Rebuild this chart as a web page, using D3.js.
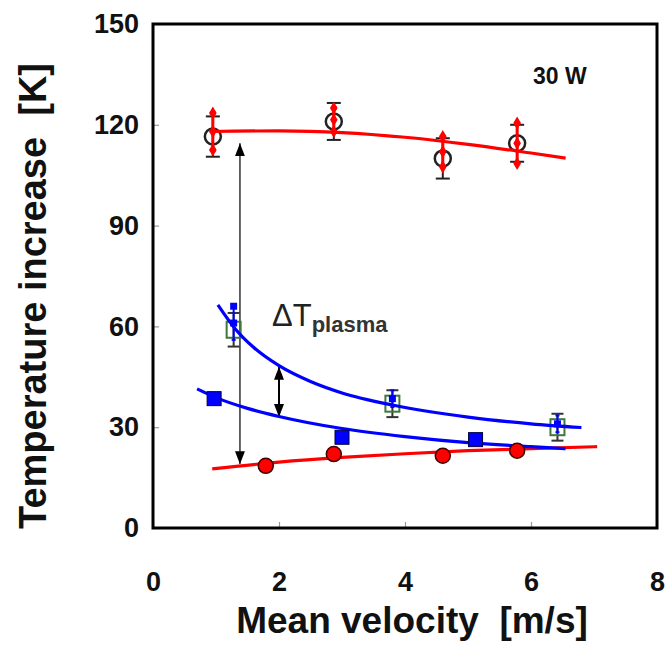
<!DOCTYPE html>
<html>
<head>
<meta charset="utf-8">
<script src="https://cdn.jsdelivr.net/npm/d3@7"></script>
<style>
  html, body { margin: 0; padding: 0; background: #fff; }
  svg { display: block; }
  text { font-family: "Liberation Sans", Arial, sans-serif; }
</style>
</head>
<body>
<svg id="chart" width="669" height="648"></svg>
<script>
// ---- data ----
const xTicks = [0, 2, 4, 6, 8];
const yTicks = [0, 30, 60, 90, 120, 150];

// total temperature rise (open circles) and its repeat (red diamonds)
const totalVel = [0.95, 2.87, 4.6, 5.78];
const totalTemp = [116.5, 121, 110, 114.5];
const totalErr = [6, 5.5, 6, 5.5];
const repeatTemp = [118, 121.5, 112, 114.5];
const repeatErr = [5.5, 3.5, 4.5, 6];

// plasma-on gas temperature (open green squares / small blue squares)
const plasmaVel = [1.28, 3.8, 6.42];
const plasmaTemp = [59, 37, 30];
const plasmaErr = [5, 4, 4];
const plasmaBlueTemp = [61, 38.5, 31];
const plasmaBlueErr = [5, 2.5, 2.5];
// isolated upper reading at the slowest flow
const plasmaExtraVel = [1.28];
const plasmaExtraTemp = [66];

// heating-only gas temperature (filled blue squares)
const heatVel = [0.97, 3.0, 5.12];
const heatTemp = [38.5, 27, 26.3];

// wall temperature (filled red circles)
const wallVel = [1.79, 2.87, 4.6, 5.78];
const wallTemp = [18.5, 22, 21.5, 23];

// fitted trend curves
const fitTopVel = [0.9, 2, 3, 4, 5, 6, 6.55];
const fitTopTemp = [118, 118.2, 117.7, 116.3, 114.2, 111.6, 110.1];
const fitPlasmaVel = [1.03, 1.3, 1.6, 2, 2.5, 3, 3.8, 5, 6, 6.8];
const fitPlasmaTemp = [66.4, 59.4, 53.7, 48.3, 43.6, 40.2, 36.6, 33.0, 31.0, 29.9];
const fitHeatVel = [0.7, 1, 1.5, 2, 3, 4, 5, 6, 6.55];
const fitHeatTemp = [41.4, 38.8, 35.6, 33.2, 29.6, 27.2, 25.4, 24.2, 23.6];
const fitWallVel = [0.94, 2, 3, 4, 5, 6, 7.05];
const fitWallTemp = [17.6, 19.6, 21.0, 22.1, 23.0, 23.6, 24.2];

// annotation arrows: [velocity, from temp, to temp]
const bigArrow = [1.38, 114.5, 19];
const smallArrow = [2.0, 48, 33];

// ---- drawing ----
const svg = d3.select("#chart");
const x = d3.scaleLinear().domain([0, 8]).range([153, 657]);
const y = d3.scaleLinear().domain([0, 150]).range([528, 24]);

const defs = svg.append("defs");
function arrowMarker(id, w, h) {
  const m = defs.append("marker").attr("id", id)
    .attr("viewBox", `0 0 ${w} ${h}`).attr("refX", w).attr("refY", h / 2)
    .attr("markerWidth", w).attr("markerHeight", h)
    .attr("markerUnits", "userSpaceOnUse").attr("orient", "auto-start-reverse");
  m.append("path").attr("d", `M0,0L${w},${h / 2}L0,${h}Z`).attr("fill", "#000");
}
arrowMarker("ah", 13, 10);

// axes with inward ticks
const xAxis = svg.append("g").attr("transform", `translate(0,${y(0)})`)
  .call(d3.axisBottom(x).tickValues(xTicks).tickSize(-6).tickPadding(44).tickFormat(d3.format("d")));
const yAxis = svg.append("g").attr("transform", `translate(${x(0)},0)`)
  .call(d3.axisLeft(y).tickValues(yTicks).tickSize(-6).tickPadding(14).tickFormat(d3.format("d")));
[xAxis, yAxis].forEach(g => {
  g.select(".domain").remove();
  g.selectAll(".tick line").attr("stroke", "#999").attr("stroke-width", 1.2);
  g.selectAll(".tick text").attr("font-size", 27).attr("font-weight", "bold")
    .attr("fill", "#111").style("font-family", "'Liberation Sans', Arial, sans-serif");
});

// frame
svg.append("rect").attr("x", x(0)).attr("y", y(150))
  .attr("width", x(8) - x(0)).attr("height", y(0) - y(150))
  .attr("fill", "none").attr("stroke", "#000").attr("stroke-width", 3);

// axis titles
svg.append("text").attr("x", 412).attr("y", 633)
  .attr("text-anchor", "middle").attr("font-size", 37).attr("font-weight", "bold")
  .attr("fill", "#111").text("Mean velocity\u00a0\u00a0[m/s]");
svg.append("text").attr("transform", `translate(46,296) rotate(-90)`)
  .attr("text-anchor", "middle").attr("font-size", 38).attr("font-weight", "bold")
  .attr("fill", "#111").text("Temperature increase\u00a0\u00a0[K]");

// power label
svg.append("text").attr("x", 533).attr("y", 84).attr("font-size", 23)
  .attr("font-weight", "bold").attr("fill", "#111").text("30 W");

// ΔT label
const dt = svg.append("text").attr("x", 272).attr("y", 326).attr("fill", "#222");
dt.append("tspan").attr("font-size", 31).text("ΔT");
dt.append("tspan").attr("font-size", 22).attr("font-weight", "bold").attr("dy", 6).attr("fill", "#333").text("plasma");

// arrows
svg.append("line")
  .attr("x1", x(bigArrow[0])).attr("x2", x(bigArrow[0]))
  .attr("y1", y(bigArrow[1])).attr("y2", y(bigArrow[2]))
  .attr("stroke", "#555").attr("stroke-width", 1.8)
  .attr("marker-start", "url(#ah)").attr("marker-end", "url(#ah)");
svg.append("line")
  .attr("x1", x(smallArrow[0])).attr("x2", x(smallArrow[0]))
  .attr("y1", y(smallArrow[1])).attr("y2", y(smallArrow[2]))
  .attr("stroke", "#000").attr("stroke-width", 2)
  .attr("marker-start", "url(#ah)").attr("marker-end", "url(#ah)");

const zip = (a, b) => a.map((v, i) => [v, b[i]]);

// error bar helper
function errorBars(vel, temp, err, color, capW, width) {
  const g = svg.append("g").attr("stroke", color).attr("stroke-width", width);
  vel.forEach((v, i) => {
    const cx = x(v), t = y(temp[i] + err[i]), b = y(temp[i] - err[i]);
    g.append("line").attr("x1", cx).attr("x2", cx).attr("y1", t).attr("y2", b);
    g.append("line").attr("x1", cx - capW).attr("x2", cx + capW).attr("y1", t).attr("y2", t);
    g.append("line").attr("x1", cx - capW).attr("x2", cx + capW).attr("y1", b).attr("y2", b);
  });
}

// open circles with error bars
errorBars(totalVel, totalTemp, totalErr, "#222", 7, 2);
svg.append("g").selectAll("circle").data(zip(totalVel, totalTemp)).join("circle")
  .attr("cx", d => x(d[0])).attr("cy", d => y(d[1])).attr("r", 8)
  .attr("fill", "none").attr("stroke", "#222").attr("stroke-width", 2.5);

// red repeat series: diamonds at centre and at error-bar ends
errorBars(totalVel, repeatTemp, repeatErr, "#f00", 3, 3);
const diamond = d3.symbol().type(d3.symbolDiamond).size(50);
const redPts = [];
totalVel.forEach((v, i) => {
  redPts.push([v, repeatTemp[i] + repeatErr[i]], [v, repeatTemp[i]], [v, repeatTemp[i] - repeatErr[i]]);
});
svg.append("g").selectAll("path").data(redPts).join("path")
  .attr("d", diamond).attr("transform", d => `translate(${x(d[0])},${y(d[1])})`)
  .attr("fill", "#f00");

// open green squares with black error bars
errorBars(plasmaVel, plasmaTemp, plasmaErr, "#333", 6, 2);
svg.append("g").selectAll("rect").data(zip(plasmaVel, plasmaTemp)).join("rect")
  .attr("x", d => x(d[0]) - 7).attr("y", d => y(d[1]) - 8).attr("width", 14).attr("height", 16)
  .attr("fill", "none").attr("stroke", "#3c7a3c").attr("stroke-width", 2);

// small blue squares with blue error bars
errorBars(plasmaVel, plasmaBlueTemp, plasmaBlueErr, "#00f", 2, 2);
const bluePts = zip(plasmaVel, plasmaBlueTemp).concat(zip(plasmaExtraVel, plasmaExtraTemp));
svg.append("g").selectAll("rect").data(bluePts).join("rect")
  .attr("x", d => x(d[0]) - 3.5).attr("y", d => y(d[1]) - 3.5).attr("width", 7).attr("height", 7)
  .attr("fill", "#00f");

// fitted curves
const line = d3.line().x(d => x(d[0])).y(d => y(d[1])).curve(d3.curveMonotoneX);
function fit(vel, temp, color) {
  svg.append("path").datum(zip(vel, temp)).attr("d", line)
    .attr("fill", "none").attr("stroke", color).attr("stroke-width", 3.2);
}
fit(fitTopVel, fitTopTemp, "#f00");
fit(fitWallVel, fitWallTemp, "#f00");
fit(fitPlasmaVel, fitPlasmaTemp, "#00f");
fit(fitHeatVel, fitHeatTemp, "#00f");

// filled blue squares
svg.append("g").selectAll("rect").data(zip(heatVel, heatTemp)).join("rect")
  .attr("x", d => x(d[0]) - 7).attr("y", d => y(d[1]) - 7).attr("width", 14).attr("height", 14)
  .attr("fill", "#00f").attr("stroke", "#000040").attr("stroke-width", 1);

// filled red circles
svg.append("g").selectAll("circle").data(zip(wallVel, wallTemp)).join("circle")
  .attr("cx", d => x(d[0])).attr("cy", d => y(d[1])).attr("r", 7.5)
  .attr("fill", "#f00").attr("stroke", "#400").attr("stroke-width", 1.5);
</script>
</body>
</html>
